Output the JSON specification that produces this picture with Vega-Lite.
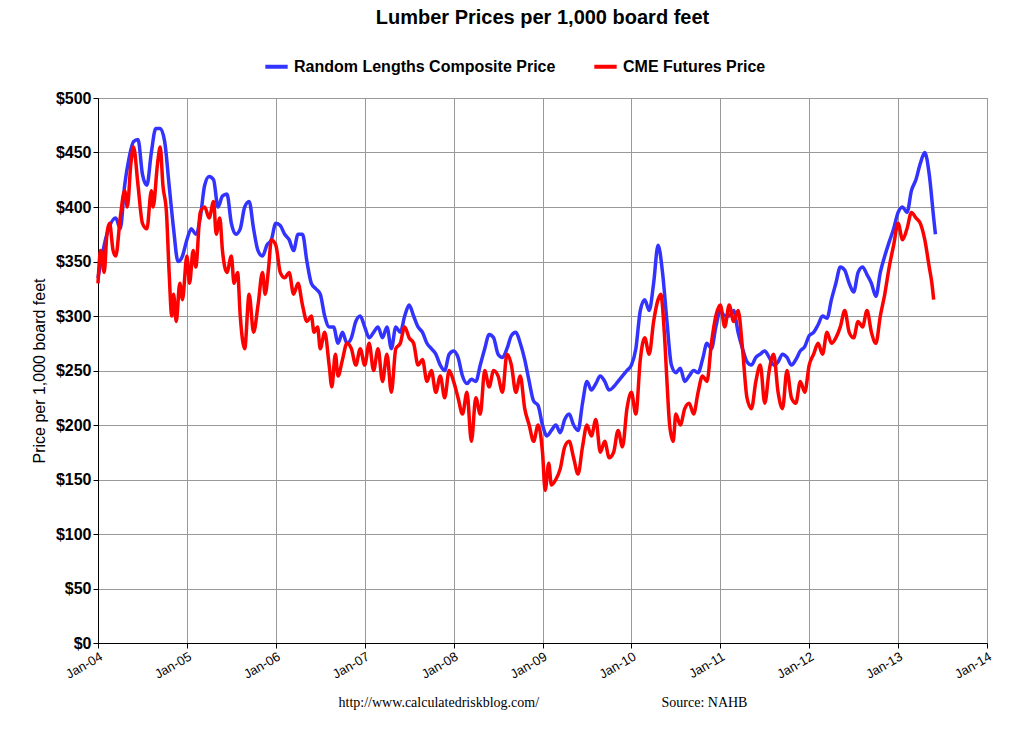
{
  "$schema": "https://vega.github.io/schema/vega-lite/v6.json",
  "width": 889,
  "height": 545,
  "autosize": "none",
  "padding": {"left": 98, "top": 98, "right": 33, "bottom": 92},
  "background": "white",
  "title": {"text": "Lumber Prices per 1,000 board feet", "font": "Liberation Sans", "fontSize": 20, "fontWeight": "bold", "color": "black", "offset": 25},
  "datasets": {
    "rl": [[2004.0,335],[2004.1,375],[2004.2,390],[2004.25,380],[2004.3,420],[2004.35,445],[2004.4,460],[2004.45,462],[2004.5,430],[2004.55,420],[2004.6,450],[2004.65,472],[2004.7,472],[2004.75,460],[2004.8,420],[2004.85,380],[2004.9,350],[2004.95,355],[2005.0,370],[2005.05,380],[2005.1,375],[2005.15,390],[2005.2,420],[2005.25,428],[2005.3,425],[2005.35,400],[2005.4,410],[2005.45,412],[2005.5,385],[2005.55,375],[2005.6,380],[2005.65,400],[2005.7,405],[2005.75,380],[2005.8,360],[2005.85,355],[2005.9,365],[2005.95,370],[2006.0,385],[2006.05,383],[2006.1,375],[2006.15,370],[2006.2,360],[2006.25,375],[2006.3,375],[2006.35,350],[2006.4,330],[2006.45,325],[2006.5,320],[2006.55,300],[2006.6,290],[2006.65,290],[2006.7,275],[2006.75,285],[2006.8,275],[2006.85,280],[2006.9,295],[2006.95,300],[2007.0,290],[2007.05,280],[2007.1,285],[2007.15,290],[2007.2,280],[2007.25,290],[2007.3,270],[2007.35,290],[2007.4,285],[2007.45,300],[2007.5,310],[2007.55,300],[2007.6,290],[2007.65,285],[2007.7,275],[2007.75,270],[2007.8,265],[2007.85,255],[2007.9,250],[2007.95,265],[2008.0,268],[2008.05,262],[2008.1,245],[2008.15,238],[2008.2,242],[2008.25,240],[2008.3,255],[2008.35,270],[2008.4,283],[2008.45,280],[2008.5,265],[2008.55,262],[2008.6,270],[2008.65,282],[2008.7,285],[2008.75,275],[2008.8,260],[2008.85,240],[2008.9,222],[2008.95,218],[2009.0,200],[2009.05,190],[2009.1,195],[2009.15,200],[2009.2,193],[2009.25,205],[2009.3,210],[2009.35,200],[2009.4,195],[2009.45,220],[2009.5,240],[2009.55,232],[2009.6,238],[2009.65,245],[2009.7,240],[2009.75,232],[2009.8,235],[2009.85,240],[2009.9,245],[2009.95,250],[2010.0,255],[2010.05,270],[2010.1,305],[2010.15,315],[2010.2,305],[2010.25,330],[2010.3,365],[2010.35,340],[2010.4,295],[2010.45,255],[2010.5,248],[2010.55,252],[2010.6,240],[2010.65,245],[2010.7,250],[2010.75,248],[2010.8,260],[2010.85,275],[2010.9,270],[2010.95,290],[2011.0,305],[2011.05,300],[2011.1,300],[2011.15,305],[2011.2,285],[2011.25,270],[2011.3,258],[2011.35,255],[2011.4,262],[2011.45,265],[2011.5,268],[2011.55,262],[2011.6,255],[2011.65,258],[2011.7,265],[2011.75,262],[2011.8,255],[2011.85,260],[2011.9,268],[2011.95,272],[2012.0,282],[2012.05,285],[2012.1,292],[2012.15,300],[2012.2,298],[2012.25,315],[2012.3,330],[2012.35,345],[2012.4,342],[2012.45,330],[2012.5,322],[2012.55,340],[2012.6,345],[2012.65,338],[2012.7,330],[2012.75,318],[2012.8,340],[2012.85,355],[2012.9,368],[2012.95,380],[2013.0,395],[2013.05,400],[2013.1,395],[2013.15,415],[2013.2,425],[2013.25,440],[2013.3,450],[2013.35,430],[2013.4,390],[2013.42,375]],
    "cme": [[2004.0,330],[2004.03,360],[2004.07,340],[2004.1,375],[2004.13,385],[2004.17,360],[2004.2,355],[2004.25,390],[2004.3,415],[2004.33,400],[2004.37,440],[2004.4,455],[2004.45,420],[2004.5,385],[2004.55,380],[2004.6,415],[2004.62,400],[2004.67,440],[2004.7,455],[2004.73,420],[2004.77,395],[2004.8,340],[2004.83,300],[2004.85,320],[2004.88,295],[2004.92,330],[2004.95,315],[2005.0,355],[2005.03,330],[2005.07,360],[2005.1,345],[2005.15,395],[2005.2,400],[2005.25,390],[2005.3,405],[2005.33,375],[2005.37,390],[2005.4,360],[2005.45,340],[2005.5,355],[2005.53,330],[2005.57,340],[2005.6,300],[2005.65,270],[2005.7,320],[2005.75,285],[2005.8,310],[2005.85,340],[2005.88,320],[2005.92,345],[2005.95,370],[2006.0,365],[2006.05,340],[2006.1,335],[2006.15,340],[2006.2,320],[2006.25,330],[2006.3,310],[2006.35,295],[2006.4,300],[2006.43,285],[2006.47,290],[2006.5,270],[2006.55,285],[2006.6,255],[2006.63,235],[2006.67,265],[2006.7,245],[2006.75,260],[2006.8,275],[2006.85,270],[2006.9,255],[2006.95,270],[2007.0,255],[2007.05,275],[2007.1,250],[2007.15,270],[2007.2,240],[2007.25,265],[2007.3,230],[2007.35,270],[2007.4,275],[2007.45,290],[2007.5,280],[2007.55,275],[2007.6,255],[2007.65,260],[2007.7,240],[2007.75,250],[2007.8,230],[2007.85,245],[2007.9,225],[2007.95,250],[2008.0,240],[2008.05,225],[2008.1,210],[2008.15,230],[2008.2,185],[2008.25,225],[2008.3,210],[2008.35,250],[2008.4,235],[2008.45,250],[2008.5,245],[2008.55,230],[2008.6,265],[2008.65,255],[2008.7,230],[2008.75,245],[2008.8,215],[2008.85,200],[2008.9,185],[2008.95,200],[2009.0,175],[2009.03,140],[2009.07,165],[2009.1,145],[2009.15,150],[2009.2,160],[2009.25,180],[2009.3,185],[2009.35,170],[2009.4,155],[2009.45,180],[2009.5,200],[2009.55,190],[2009.6,205],[2009.65,175],[2009.7,185],[2009.75,170],[2009.8,175],[2009.85,195],[2009.9,180],[2009.95,215],[2010.0,230],[2010.05,210],[2010.1,260],[2010.15,280],[2010.2,265],[2010.25,295],[2010.3,315],[2010.33,320],[2010.37,285],[2010.4,240],[2010.43,200],[2010.47,185],[2010.5,210],[2010.55,200],[2010.6,215],[2010.65,220],[2010.7,210],[2010.75,230],[2010.8,245],[2010.85,240],[2010.9,275],[2010.95,300],[2011.0,310],[2011.05,290],[2011.1,310],[2011.15,295],[2011.2,305],[2011.25,270],[2011.3,225],[2011.35,215],[2011.4,240],[2011.45,255],[2011.5,220],[2011.55,250],[2011.6,265],[2011.65,230],[2011.7,215],[2011.75,250],[2011.8,225],[2011.85,220],[2011.9,240],[2011.95,230],[2012.0,255],[2012.05,265],[2012.1,275],[2012.15,265],[2012.2,285],[2012.25,275],[2012.3,280],[2012.35,290],[2012.4,305],[2012.45,285],[2012.5,280],[2012.55,295],[2012.6,290],[2012.65,305],[2012.7,285],[2012.75,275],[2012.8,300],[2012.85,320],[2012.9,345],[2012.95,365],[2013.0,385],[2013.05,370],[2013.1,380],[2013.15,395],[2013.2,390],[2013.25,385],[2013.3,370],[2013.35,345],[2013.38,330],[2013.4,315]]
  },
  "data": {"name": "rl"},
  "transform": [
    {"calculate": "datum[0]", "as": "t"},
    {"calculate": "datum[1]", "as": "price"},
    {"calculate": "'Random Lengths Composite Price'", "as": "series"}
  ],
  "layer": [
    {
      "mark": {"type": "line", "strokeWidth": 3.5, "interpolate": "monotone"},
      "encoding": {
        "x": {"field": "t", "type": "quantitative"},
        "y": {"field": "price", "type": "quantitative"},
        "color": {"field": "series", "type": "nominal"}
      }
    },
    {
      "data": {"name": "cme"},
      "transform": [
        {"calculate": "datum[0]", "as": "t"},
        {"calculate": "datum[1]", "as": "price"},
        {"calculate": "'CME Futures Price'", "as": "series"}
      ],
      "mark": {"type": "line", "strokeWidth": 3.5, "interpolate": "monotone"},
      "encoding": {
        "x": {"field": "t", "type": "quantitative"},
        "y": {"field": "price", "type": "quantitative"},
        "color": {"field": "series", "type": "nominal"}
      }
    }
  ],
  "encoding": {
    "x": {
      "field": "t", "type": "quantitative",
      "scale": {"domain": [2004, 2014], "nice": false, "zero": false},
      "axis": {
        "values": [2004,2005,2006,2007,2008,2009,2010,2011,2012,2013,2014],
        "labelExpr": "'Jan-' + substring(toString(datum.value), 2)",
        "labelAngle": -30, "labelAlign": "right", "labelBaseline": "top",
        "labelFontSize": 13, "labelColor": "black", "labelFont": "Liberation Sans",
        "tickColor": "black", "domainColor": "black", "gridColor": "#999999",
        "title": "http://www.calculatedriskblog.com/\u00a0\u00a0\u00a0\u00a0\u00a0\u00a0\u00a0\u00a0\u00a0\u00a0\u00a0\u00a0\u00a0\u00a0\u00a0\u00a0\u00a0\u00a0\u00a0\u00a0\u00a0\u00a0\u00a0\u00a0\u00a0\u00a0\u00a0\u00a0\u00a0\u00a0\u00a0\u00a0\u00a0\u00a0\u00a0Source: NAHB",
        "titleFontSize": 14, "titleFontWeight": "normal", "titleFont": "Liberation Serif", "titleColor": "black", "titlePadding": 14
      }
    },
    "y": {
      "field": "price", "type": "quantitative",
      "scale": {"domain": [0, 500], "nice": false},
      "axis": {
        "values": [0,50,100,150,200,250,300,350,400,450,500],
        "labelExpr": "'$' + datum.value",
        "labelFontSize": 16, "labelFontWeight": "bold", "labelColor": "black", "labelFont": "Liberation Sans",
        "tickColor": "black", "domainColor": "black", "gridColor": "#999999",
        "title": "Price per 1,000 board feet",
        "titleFontSize": 16, "titleFontWeight": "normal", "titleFont": "Liberation Sans", "titleColor": "black", "titlePadding": 8
      }
    },
    "color": {
      "field": "series", "type": "nominal",
      "scale": {"domain": ["Random Lengths Composite Price", "CME Futures Price"], "range": ["#3333ff", "#ff0000"]},
      "legend": {
        "orient": "none", "legendX": 165, "legendY": -45, "direction": "horizontal", "title": null,
        "symbolType": "stroke", "symbolStrokeWidth": 4, "symbolSize": 500, "labelLimit": 400,
        "labelFontSize": 16, "labelFontWeight": "bold", "labelFont": "Liberation Sans", "labelColor": "black",
        "columnPadding": 30
      }
    }
  },
  "config": {"view": {"stroke": "#999999"}}
}
